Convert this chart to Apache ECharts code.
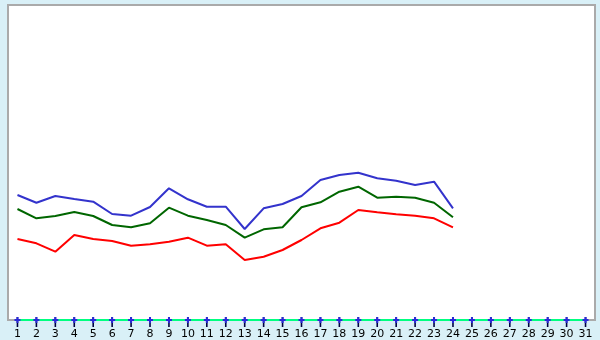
<!DOCTYPE html>
<html><head><meta charset="utf-8">
<script src="https://cdn.jsdelivr.net/npm/echarts@6/dist/echarts.min.js"></script>
<style>html,body{margin:0;padding:0;background:#d9f0f7}#c{width:600px;height:340px}</style>
</head><body><div id="c"></div>
<script>
var categories = [];
for (var i = 1; i <= 31; i++) categories.push(String(i));
var blueValues = [125, 117.3, 124, 121, 118.3, 106, 104.3, 113, 131.7, 120.7, 113.3, 113.3, 91, 111.7, 116, 124, 140, 145, 147.3, 141.7, 139.3, 135, 138.3, 111.7];
var greenValues = [111, 101.7, 104, 108, 104, 95, 92.7, 96.7, 112.3, 104.3, 100, 95, 82.3, 90.7, 92.7, 112.7, 117.7, 128.3, 133.3, 122.3, 123.3, 122.3, 117.3, 102.7];
var redValues = [81, 76.7, 68.3, 85, 81, 79, 74.3, 75.7, 78.3, 82.3, 74.3, 75.7, 60, 63.3, 70, 80, 91.7, 97.3, 110, 107.7, 105.7, 104.3, 101.7, 92.7];
var baseline = categories.map(function(){ return 0; });

var chart = echarts.init(document.getElementById('c'), null, {renderer: 'canvas'});
function ln(data, color) {
  return {type: 'line', data: data, showSymbol: false, symbol: 'none', animation: false,
    lineStyle: {color: color, width: 2}, itemStyle: {color: color}};
}
chart.setOption({
  backgroundColor: '#d9f0f7',
  animation: false,
  grid: {left: 8, top: 5, right: 5, bottom: 20, show: true, backgroundColor: '#ffffff', borderColor: '#aaaaaa', borderWidth: 2},
  xAxis: {type: 'category', data: categories, boundaryGap: true,
    axisLine: {show: false},
    axisTick: {show: false},
    axisLabel: {color: '#000000', fontFamily: 'DejaVu Sans', fontSize: 11, margin: 9, interval: 0},
    splitLine: {show: false}},
  yAxis: {type: 'value', min: 0, max: 315, show: false, splitLine: {show: false}},
  series: [
    ln(blueValues, '#3333cc'),
    ln(greenValues, '#006600'),
    ln(redValues, '#ff0000'),
    {type: 'line', data: baseline, symbol: 'path://M0,0 L2,0 L2,10 L0,10 Z', symbolSize: [1.6, 10], symbolOffset: [0, 2], symbolKeepAspect: false,
      showSymbol: true, clip: false, animation: false,
      lineStyle: {color: '#00ff80', width: 2}, itemStyle: {color: '#000040'}, z: 5},
    {type: 'line', data: baseline, symbol: 'path://M0,2 L2,2 L2,0 L4,0 L4,2 L6,2 L6,4 L4,4 L4,6 L2,6 L2,4 L0,4 Z', symbolSize: 6,
      showSymbol: true, clip: false, animation: false,
      lineStyle: {width: 0, opacity: 0}, itemStyle: {color: '#2828d8'}, z: 6}
  ]
});
</script></body></html>
